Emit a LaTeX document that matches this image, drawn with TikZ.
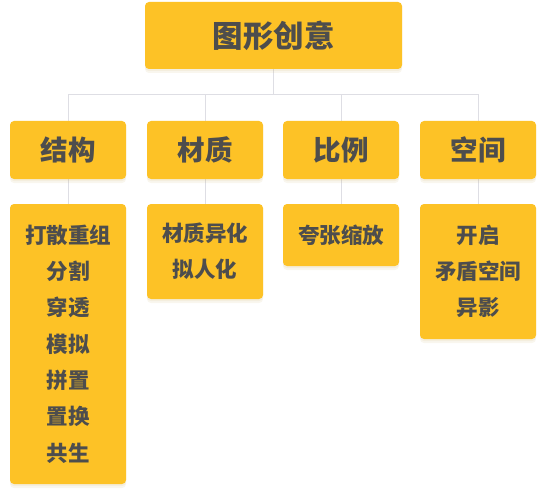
\documentclass[tikz,border=0pt]{standalone}
\usepackage{fontspec}
\newfontfamily\cjk{Noto Sans CJK SC Black}
\usetikzlibrary{backgrounds}
\definecolor{boxyellow}{RGB}{253,194,38}
\definecolor{txtgrey}{RGB}{77,77,77}
\definecolor{linegrey}{RGB}{222,222,228}
\definecolor{shadowtone}{RGB}{200,170,90}
\tikzset{
  box/.style={fill=boxyellow, rounded corners=4pt, inner sep=0pt, text=txtgrey,
    align=center, minimum width=116pt,
    preaction={fill=shadowtone, fill opacity=0.10, transform canvas={yshift=-4pt}},
    preaction={fill=shadowtone, fill opacity=0.10, transform canvas={yshift=-2pt}}},
  topbox/.style={box, minimum width=257pt, minimum height=67pt, font=\cjk\fontsize{30.5}{36}\selectfont},
  midbox/.style={box, minimum height=58pt, font=\cjk\fontsize{27.5}{33}\selectfont},
  leafbox/.style={box, font=\cjk\fontsize{21.5}{36.3}\selectfont},
  conn/.style={draw=linegrey, line width=1pt}
}
\begin{document}
\begin{tikzpicture}[x=1pt,y=-1pt]
\useasboundingbox (0,0) rectangle (546,500);
\node[topbox] (top) at (273.5,35.5) {图形创意};
\node[midbox] (m1) at (68,150) {结构};
\node[midbox] (m2) at (205,150) {材质};
\node[midbox] (m3) at (341,150) {比例};
\node[midbox] (m4) at (478,150) {空间};
\node[leafbox, minimum height=280pt] (l1) at (68,344) {打散重组\\分割\\穿透\\模拟\\拼置\\置换\\共生};
\node[leafbox, minimum height=95pt] (l2) at (205,251.5) {材质异化\\拟人化};
\node[leafbox, minimum height=62pt] (l3) at (341,235) {夸张缩放};
\node[leafbox, minimum height=135pt] (l4) at (478,271.5) {开启\\矛盾空间\\异影};
\coordinate (hub) at (273.5,95);
\begin{scope}[on background layer]
\fill[white] (0,0) rectangle (546,500);
\draw[conn] (top.south) -- (hub);
\draw[conn] (hub) -| (m1.north);
\draw[conn] (hub) -| (m2.north);
\draw[conn] (hub) -| (m3.north);
\draw[conn] (hub) -| (m4.north);
\draw[conn] (m1.south) -- (l1.north);
\draw[conn] (m2.south) -- (l2.north);
\draw[conn] (m3.south) -- (l3.north);
\draw[conn] (m4.south) -- (l4.north);
\end{scope}
\end{tikzpicture}
\end{document}
